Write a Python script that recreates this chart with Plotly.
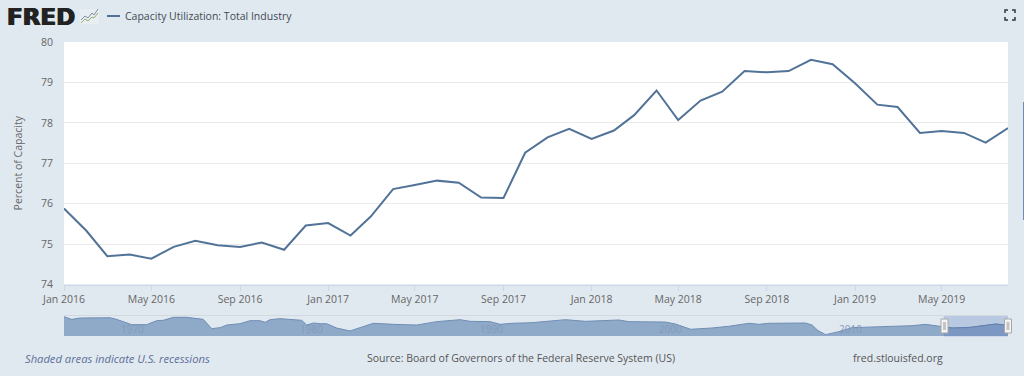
import datetime as dt
import plotly.graph_objects as go

W, H = 1024, 376

# Main series
months = [f"{y}-{m:02d}-01" for y in range(2016, 2020) for m in range(1, 13)][:44]
capacity = [75.88, 75.33, 74.70, 74.74, 74.64, 74.93, 75.08, 74.97, 74.93, 75.04, 74.86, 75.46,
            75.52, 75.21, 75.68, 76.36, 76.46, 76.57, 76.52, 76.15, 76.14, 77.26, 77.64, 77.85,
            77.60, 77.81, 78.19, 78.80, 78.07, 78.55, 78.77, 79.28, 79.25, 79.28, 79.56, 79.45,
            78.98, 78.45, 78.39, 77.75, 77.80, 77.75, 77.51, 77.87]

nav_years = [1967.0, 1967.43, 1967.9, 1969.0, 1969.56, 1969.93, 1970.3, 1970.77, 1971.6, 1972.16, 1972.53,
             1973.1, 1973.83, 1974.76, 1975.23, 1975.7, 1976.06, 1976.8, 1977.36, 1977.92, 1978.2, 1978.48,
             1979.03, 1979.78, 1980.24, 1980.52, 1980.9, 1981.26, 1981.63, 1982.19, 1982.93, 1983.49, 1984.23,
             1985.35, 1986.65, 1987.76, 1989.06, 1989.62, 1990.73, 1991.29, 1991.96, 1993.07, 1993.8, 1994.93,
             1996.05, 1997.9, 1998.46, 2000.5, 2001.06, 2001.9, 2003.1, 2004.03, 2005.15, 2005.7, 2006.26,
             2008.3, 2008.67, 2009.0, 2009.42, 2010.16, 2010.9, 2012.4, 2014.24, 2014.98, 2016.0, 2016.5,
             2017.5, 2018.9, 2019.58]
nav_values = [88.9, 85.6, 87.3, 87.3, 87.7, 85.6, 82.7, 78.9, 78.9, 83.9, 84.4,
              88.2, 88.2, 85.6, 73.8, 75.1, 78.4, 80.1, 83.9, 83.9, 81.8, 85.2,
              86.5, 84.8, 84.4, 78.4, 81.0, 80.1, 80.1, 74.6, 70.9, 75.1, 80.6,
              79.3, 78.4, 82.7, 85.2, 83.1, 82.7, 79.3, 80.6, 81.4, 82.7, 85.2,
              83.1, 84.8, 82.7, 82.2, 79.7, 73.0, 74.7, 76.8, 80.6, 79.3, 80.6,
              81.0, 78.4, 71.3, 66.2, 70.0, 75.1, 76.3, 77.6, 79.3, 75.88, 74.6,
              75.5, 79.7, 77.87]
nav_labels = ["1970", "1980", "1990", "2000", "2010"]
window_start, window_end = "2016-01-01", "2019-08-01"

BG = "#e1e9f0"
BLUE = "#527398"
X0, X1 = 64, 1008


def year_to_date(v):
    y = int(v)
    return (dt.date(y, 1, 1) + dt.timedelta(days=round((v - y) * 365))).isoformat()


nav_dates = [year_to_date(v) for v in nav_years]


def px(x):
    return x / W


def py(y):
    return 1 - y / H


def path(points):
    return "M" + " L".join(f"{px(a):.5f},{py(b):.5f}" for a, b in points)


fig = go.Figure()
fig.add_trace(go.Scatter(x=months, y=capacity, mode="lines", xaxis="x", yaxis="y",
                         line=dict(color=BLUE, width=2), name="Capacity Utilization: Total Industry",
                         showlegend=False, hoverinfo="x+y"))
fig.add_trace(go.Scatter(x=nav_dates, y=nav_values, mode="lines", xaxis="x2", yaxis="y2",
                         line=dict(color="#6f8db4", width=1), fill="tozeroy", fillcolor="#8fa9c9",
                         showlegend=False, hoverinfo="skip"))
sel = nav_dates.index(window_start)
fig.add_trace(go.Scatter(x=nav_dates[sel:], y=nav_values[sel:], mode="lines", xaxis="x2", yaxis="y2",
                         line=dict(color="#5f80ab", width=1), fill="tozeroy", fillcolor="#7c97c1",
                         showlegend=False, hoverinfo="skip"))

font = "Open Sans"
shapes = []
# White main plot panel
shapes.append(dict(type="rect", xref="x", yref="y", x0=window_start, x1=window_end, y0=74, y1=80,
                   fillcolor="white", line_width=0, layer="below"))
# Navigator window and its handles
shapes.append(dict(type="rect", xref="x2", yref="paper", x0=window_start, x1=window_end,
                   y0=py(336.5), y1=py(315), fillcolor="#bac9e2", line_width=0, layer="below"))
for cx in (944.5, 1008):
    shapes.append(dict(type="rect", xref="paper", yref="paper", x0=px(cx - 3.5), x1=px(cx + 3.5),
                       y0=py(333), y1=py(319), fillcolor="#f4f4f4",
                       line=dict(color="#a8a8a8", width=1), layer="above"))
    shapes.append(dict(type="rect", xref="paper", yref="paper", x0=px(cx - 1.5), x1=px(cx + 1.5),
                       y0=py(330), y1=py(322), fillcolor="#c4c4c4", line_width=0, layer="above"))
# Navigator top line
shapes.append(dict(type="line", xref="paper", yref="paper", x0=px(X0), x1=px(X1), y0=py(315.5), y1=py(315.5),
                   line=dict(color="#d3d9e0", width=1), layer="below"))
# Legend key
shapes.append(dict(type="line", xref="paper", yref="paper", x0=px(107), x1=px(120), y0=py(16), y1=py(16),
                   line=dict(color=BLUE, width=2)))
# Logo icon
shapes.append(dict(type="rect", xref="paper", yref="paper", x0=px(80), x1=px(99), y0=py(24), y1=py(9),
                   fillcolor="#e9eef3", line_width=0))
shapes.append(dict(type="path", xref="paper", yref="paper",
                   path=path([(81, 20), (85, 16), (88, 18), (92, 13), (94, 15), (98, 9)]),
                   line=dict(color="#7f8f9e", width=1)))
shapes.append(dict(type="path", xref="paper", yref="paper",
                   path=path([(81, 23), (85, 19), (88, 21), (92, 17), (94, 18), (98, 13)]),
                   line=dict(color="#8fb173", width=1)))
# Fullscreen icon
for a, b, c in [((1005, 13), (1005, 10), (1008, 10)), ((1012, 10), (1015, 10), (1015, 13)),
                ((1015, 17), (1015, 20), (1012, 20)), ((1008, 20), (1005, 20), (1005, 17))]:
    shapes.append(dict(type="path", xref="paper", yref="paper", path=path([a, b, c]),
                       line=dict(color="#333333", width=1.5)))
# Right edge strip
shapes.append(dict(type="line", xref="paper", yref="paper", x0=px(1023.5), x1=px(1023.5), y0=py(102), y1=py(220),
                   line=dict(color="#6f8db4", width=1)))

annotations = [
    dict(text="<b>FRED</b>", x=px(5), y=py(17), xref="paper", yref="paper", xanchor="left", yanchor="middle",
         showarrow=False, font=dict(family="DejaVu Sans", size=23, color="#222222",
                                    shadow="0.7px 0 #222222, -0.7px 0 #222222")),
    dict(text="Capacity Utilization: Total Industry", x=px(123), y=py(16), xref="paper", yref="paper",
         xanchor="left", yanchor="middle", showarrow=False, font=dict(family=font, size=10.5, color="#3f4a55")),
    dict(text="<i>Shaded areas indicate U.S. recessions</i>", x=px(23), y=py(358), xref="paper", yref="paper",
         xanchor="left", yanchor="middle", showarrow=False, font=dict(family=font, size=11.2, color="#5b6f99")),
    dict(text="Source: Board of Governors of the Federal Reserve System (US)", x=px(365), y=py(358),
         xref="paper", yref="paper", xanchor="left", yanchor="middle", showarrow=False,
         font=dict(family=font, size=10.5, color="#555555")),
    dict(text="fred.stlouisfed.org", x=px(851), y=py(358), xref="paper", yref="paper", xanchor="left",
         yanchor="middle", showarrow=False, font=dict(family=font, size=10.5, color="#555555")),
]
for lab in nav_labels:
    annotations.append(dict(text=lab, x=f"{lab}-01-01", y=py(329), xref="x2", yref="paper", xanchor="left",
                            yanchor="middle", xshift=1, showarrow=False,
                            font=dict(family=font, size=10, color="#839ab9")))

fig.update_layout(
    width=W, height=H, autosize=False, margin=dict(l=0, r=0, t=0, b=0, autoexpand=False),
    paper_bgcolor=BG, plot_bgcolor="rgba(0,0,0,0)", showlegend=False,
    font=dict(family=font, color="#666666", size=10.5),
    shapes=shapes, annotations=annotations,
    xaxis=dict(domain=[px(X0), px(X1)], anchor="y", type="date", range=[window_start, window_end],
               tick0="2016-01-01", dtick="M4", tickformat="%b %Y", ticks="outside", ticklen=5,
               tickcolor="#ccd6eb", tickwidth=1, showgrid=False, showline=True, linecolor="#ccd6eb",
               linewidth=1, zeroline=False, automargin=False, tickfont=dict(size=10.5, color="#666666")),
    yaxis=dict(domain=[py(284.5), py(42)], anchor="x", range=[74, 80], dtick=1, showgrid=True,
               gridcolor="#ebebeb", gridwidth=1, zeroline=False, ticks="", ticklabelstandoff=10, automargin=False,
               tickfont=dict(size=10.5, color="#666666"),
               title=dict(text="Percent of Capacity", font=dict(size=10.5, color="#666666"), standoff=16)),
    xaxis2=dict(domain=[px(X0), px(X1)], anchor="y2", type="date", range=["1967-01-01", window_end],
                showticklabels=False, ticks="", showgrid=False, zeroline=False, showline=False, automargin=False),
    yaxis2=dict(domain=[py(336), py(315.5)], anchor="x2", range=[64.5, 90.5], showticklabels=False, ticks="",
                showgrid=False, zeroline=False, showline=False, automargin=False),
)
fig.write_html("out.html", post_script="document.body.style.margin='0';document.body.style.overflow='hidden';",
               config={"displayModeBar": False})
